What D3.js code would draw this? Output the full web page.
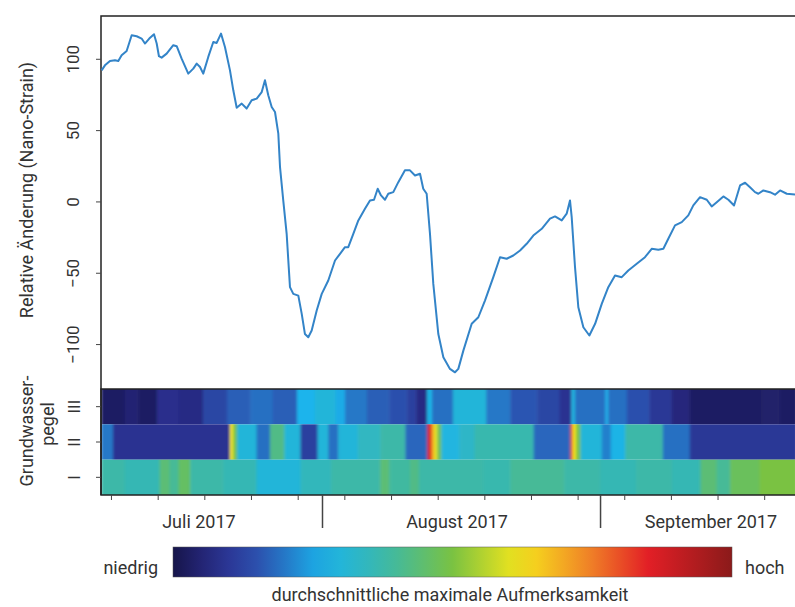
<!DOCTYPE html>
<html>
<head>
<meta charset="utf-8">
<script src="https://cdn.jsdelivr.net/npm/d3@7"></script>
<style>
  body { margin: 0; background: #fff; }
  svg { display: block; font-family: Roboto, "Noto Sans", sans-serif; }
</style>
</head>
<body>
<script>
// days counted from 1 July 2017
const strainDays = [6.43, 6.80, 7.36, 7.92, 8.29, 8.66, 9.22, 9.78, 10.34, 10.89, 11.26, 11.74, 12.27, 12.57,
  12.82, 13.12, 13.68, 14.42, 14.80, 15.35, 16.09, 16.65, 17.03, 17.40, 17.76, 18.32, 18.88, 19.26, 19.74,
  20.18, 20.74, 21.11, 21.49, 22.05, 22.60, 23.16, 23.72, 24.28, 24.64, 25.01, 25.39, 25.76, 26.13, 26.32,
  26.68, 27.06, 27.43, 27.80, 28.36, 28.74, 29.10, 29.47, 29.85, 30.41, 30.97, 31.70, 32.45, 33.01, 33.56,
  33.93, 34.49, 35.05, 35.79, 36.35, 36.80, 37.21, 37.58, 38.02, 38.39, 38.95, 39.51, 40.25, 40.81, 41.37,
  41.93, 42.29, 42.67, 43.04, 43.41, 43.97, 44.53, 45.27, 45.83, 46.20, 46.76, 47.69, 48.43, 49.17, 50.10,
  50.85, 51.59, 52.33, 53.08, 53.82, 54.56, 55.50, 56.42, 56.98, 57.73, 58.28, 58.65, 58.84, 59.21, 59.58,
  60.14, 60.81, 61.45, 62.19, 62.92, 63.67, 64.42, 65.15, 66.09, 67.01, 67.76, 68.50, 69.06, 69.61, 70.36,
  71.11, 71.84, 72.40, 73.15, 73.90, 74.45, 75.01, 75.75, 76.31, 76.94, 77.61, 78.17, 78.72, 79.28, 79.65,
  80.21, 80.95, 81.51, 82.07, 82.82, 83.74];
const strainValues = [91.9, 95.4, 98.5, 99, 98.5, 102.5, 105.5, 116.5, 115.8, 114.2, 110.7, 114.2, 117.2, 110.7,
  101.8, 100.8, 103.6, 109.5, 108.8, 100.1, 89.6, 93.1, 96.6, 94.2, 89.6, 101.3, 111.8, 111.1, 117.7,
  108.3, 91.9, 77.9, 65.7, 68.6, 65.1, 70.9, 72.1, 76.7, 84.9, 74.4, 66.2, 62.7, 47.5, 24,
  0.7, -22.7, -60.1, -64.8, -66, -78.8, -93, -95.2, -90.5, -76.5, -64.8, -55.4, -41.4, -36.7, -32.1,
  -32.1, -22.7, -13.3, -5.1, 0.7, 1.2, 8.9, 4.2, 1.2, 5.4, 6.5, 13.5, 21.8, 21.8, 18.2,
  19.4, 8.9, 5.4, -22.7, -57.8, -93, -109.3, -117.4, -119.8, -117.4, -104.6, -85.8, -81.2, -69.5, -53.1,
  -39.1, -40.2, -37.9, -34.4, -29.7, -23.9, -19.2, -12.1, -10.5, -13.3, -8.6, 0.7, -11, -46.1, -74.2,
  -88.2, -94, -85.8, -71.8, -60.1, -51.9, -53.1, -48.4, -43.7, -39.1, -33.2, -33.9, -33.2, -26.2, -16.8,
  -14.5, -9.8, -2.8, 3, 1.2, -3.5, -0.5, 3.5, 1.2, -2.8, 11.2, 13.1, 10, 6.5, 5.4,
  7.7, 6.5, 4.7, 7.7, 5.4, 4.9];

// heatmap rows: [start day, attention 0..1], each cell runs to the next start
const rowIII = [[6.36, 0.03], [9.0, 0.05], [10.5, 0.03], [12.6, 0.08], [15.0, 0.07], [17.73, 0.13], [20.4, 0.17],
  [23.0, 0.19], [25.5, 0.17], [28.21, 0.27], [30.2, 0.3], [32.5, 0.26], [33.56, 0.2], [36.0, 0.17],
  [38.5, 0.15], [40.5, 0.12], [41.5, 0.07], [42.71, 0.28], [43.26, 0.19], [45.6, 0.3], [49.3, 0.2],
  [52.0, 0.16], [55.0, 0.13], [57.5, 0.09], [58.8, 0.29], [59.2, 0.19], [62.6, 0.27], [62.9, 0.19],
  [65.0, 0.15], [67.5, 0.1], [70.0, 0.06], [72.0, 0.03], [80.0, 0.04], [82.0, 0.03]];
const rowII = [[6.36, 0.2], [7.69, 0.09], [20.74, 0.62], [21.07, 0.5], [21.5, 0.3], [23.7, 0.19], [25.2, 0.42],
  [26.8, 0.3], [28.6, 0.12], [30.5, 0.3], [31.7, 0.19], [32.8, 0.3], [35.0, 0.34], [37.5, 0.38],
  [40.3, 0.18], [42.75, 0.86], [43.2, 0.7], [43.5, 0.6], [43.85, 0.48], [44.3, 0.29], [46.3, 0.33],
  [48.0, 0.37], [54.6, 0.18], [58.7, 0.8], [58.95, 0.62], [59.3, 0.5], [59.8, 0.3], [62.2, 0.21],
  [63.2, 0.28], [64.8, 0.38], [69.0, 0.19], [72.0, 0.1]];
const rowI = [[6.36, 0.38], [9.0, 0.36], [12.9, 0.44], [14.0, 0.4], [15.0, 0.46], [16.3, 0.38], [20.0, 0.36],
  [23.7, 0.3], [28.6, 0.35], [32.0, 0.38], [37.5, 0.44], [38.5, 0.39], [40.8, 0.42], [41.8, 0.38],
  [49.0, 0.37], [52.0, 0.4], [58.0, 0.38], [62.0, 0.36], [66.0, 0.38], [70.0, 0.36], [73.2, 0.44],
  [75.0, 0.4], [76.5, 0.47], [79.8, 0.5]];
const rowNames = ["III", "II", "I"];

const minorTicks = [7.47, 12.68, 17.88, 23.08, 28.29, 33.49, 38.7, 43.9, 49.1, 54.3, 59.5, 64.7, 69.9, 75.1, 80.3];
const monthBreaks = [31, 62];
const monthLabels = ["Juli 2017", "August 2017", "September 2017"];
const monthLabelDays = [17.28, 46.06, 74.37];
const yTicks = [-100, -50, 0, 50, 100];

const colorStops = [0, 0.08, 0.16, 0.27, 0.38, 0.5, 0.62, 0.73, 0.85, 1];
const colorRange = ["#16154a", "#2b2d8c", "#2c55b2", "#1ab4ec", "#3cb8a8", "#7ac242", "#f6e61a", "#f29027", "#e21f26", "#8b1a1a"];

const width = 795;
const height = 607;
const plotLeft = 101, plotRight = 797, plotTop = 16, plotMid = 389, plotBottom = 495;
const textColor = "#333";

const svg = d3.select("body").append("svg")
  .attr("width", width)
  .attr("height", height);

const defs = svg.append("defs");
// soft horizontal smear, like the resampled image in the source figure
defs.append("filter")
  .attr("id", "smear")
  .attr("x", 0).attr("y", 0).attr("width", 1).attr("height", 1)
  .append("feGaussianBlur")
  .attr("stdDeviation", "1.6 0")
  .attr("edgeMode", "duplicate");

const x = d3.scaleLinear().domain([6.36, 83.96]).range([plotLeft, plotRight]);
const y = d3.scaleLinear().domain([-131.5, 130]).range([plotMid, plotTop]);
const rowY = d3.scaleBand().domain(rowNames).range([plotMid, plotBottom]);
const color = d3.scaleLinear().domain(colorStops).range(colorRange).interpolate(d3.interpolateRgb);

// heatmap
const rows = [rowIII, rowII, rowI];
rows.forEach((cells, i) => {
  svg.append("g")
    .attr("filter", "url(#smear)")
    .selectAll("rect")
    .data(cells)
    .enter()
    .append("rect")
    .attr("x", (d) => x(d[0]))
    .attr("width", (d, j) => {
      const end = j < cells.length - 1 ? cells[j + 1][0] : x.domain()[1];
      return x(end) - x(d[0]) + 0.5;
    })
    .attr("y", rowY(rowNames[i]))
    .attr("height", rowY.bandwidth())
    .attr("fill", (d) => color(d[1]));
});

svg.append("rect")
  .attr("x", plotLeft).attr("y", plotMid)
  .attr("width", plotRight - plotLeft).attr("height", plotBottom - plotMid)
  .attr("fill", "none").attr("stroke", "#222").attr("stroke-width", 1.5);

// frame of the strain panel
svg.append("path")
  .attr("d", `M${plotRight},${plotTop}H${plotLeft}V${plotBottom}`)
  .attr("fill", "none").attr("stroke", "#222").attr("stroke-width", 1.5);

// strain line
const line = d3.line()
  .x((d, i) => x(strainDays[i]))
  .y((d) => y(d));

svg.append("path")
  .datum(strainValues)
  .attr("d", line)
  .attr("fill", "none")
  .attr("stroke", "#3384c8")
  .attr("stroke-width", 2)
  .attr("stroke-linejoin", "round");

// y axis with rotated labels
const yAxis = svg.append("g")
  .attr("transform", `translate(${plotLeft},0)`)
  .call(d3.axisLeft(y).tickValues(yTicks).tickSize(5).tickFormat(d3.format("d")));
yAxis.select(".domain").remove();
yAxis.selectAll("line").attr("stroke", "#444");
yAxis.selectAll("text")
  .attr("transform", "rotate(-90)")
  .attr("x", 0).attr("y", -22).attr("dy", 0)
  .attr("text-anchor", "middle")
  .attr("fill", textColor)
  .style("font-size", "17px")
  .style("font-family", "Roboto");

const rowAxis = svg.append("g")
  .attr("transform", `translate(${plotLeft},0)`)
  .call(d3.axisLeft(rowY).tickSize(5));
rowAxis.select(".domain").remove();
rowAxis.selectAll("line").attr("stroke", "#444");
rowAxis.selectAll("text")
  .attr("transform", "rotate(-90)")
  .attr("x", 0).attr("y", -21).attr("dy", 0)
  .attr("text-anchor", "middle")
  .attr("fill", textColor)
  .style("font-size", "17px")
  .style("font-family", "Roboto");

// x axis
const xMinor = svg.append("g")
  .attr("transform", `translate(0,${plotBottom})`)
  .call(d3.axisBottom(x).tickValues(minorTicks).tickSize(5).tickFormat(""));
xMinor.select(".domain").remove();
xMinor.selectAll("line").attr("stroke", "#444");

const xMajor = svg.append("g")
  .attr("transform", `translate(0,${plotBottom})`)
  .call(d3.axisBottom(x).tickValues(monthBreaks).tickSize(33).tickFormat(""));
xMajor.select(".domain").remove();
xMajor.selectAll("line").attr("stroke", "#444").attr("stroke-width", 1.5);

svg.append("g")
  .selectAll("text")
  .data(monthLabels)
  .enter()
  .append("text")
  .attr("x", (d, i) => x(monthLabelDays[i]))
  .attr("y", 528)
  .attr("text-anchor", "middle")
  .attr("fill", textColor)
  .style("font-size", "18px")
  .text((d) => d);

// axis titles
svg.append("text")
  .attr("transform", "translate(33,190) rotate(-90)")
  .attr("text-anchor", "middle")
  .attr("fill", textColor)
  .style("font-size", "18px")
  .text("Relative Änderung (Nano-Strain)");

svg.append("text")
  .attr("transform", "translate(33,431) rotate(-90)")
  .attr("text-anchor", "middle")
  .attr("fill", textColor)
  .style("font-size", "18px")
  .text("Grundwasser-");

svg.append("text")
  .attr("transform", "translate(54,424) rotate(-90)")
  .attr("text-anchor", "middle")
  .attr("fill", textColor)
  .style("font-size", "18px")
  .text("pegel");

// colour bar
const gradient = defs.append("linearGradient")
  .attr("id", "attention");
d3.range(0, 1.001, 0.05).forEach((t) => {
  gradient.append("stop")
    .attr("offset", t)
    .attr("stop-color", color(t));
});

const barX = d3.scaleLinear().domain([0, 1]).range([173, 732]);
svg.append("rect")
  .attr("x", barX(0)).attr("y", 547)
  .attr("width", barX(1) - barX(0)).attr("height", 30)
  .attr("fill", "url(#attention)")
  .attr("stroke", "#555").attr("stroke-width", 0.5);

svg.append("text")
  .attr("x", barX(0) - 15).attr("y", 574)
  .attr("text-anchor", "end")
  .attr("fill", textColor)
  .style("font-size", "18px")
  .text("niedrig");

svg.append("text")
  .attr("x", barX(1) + 13).attr("y", 574)
  .attr("fill", textColor)
  .style("font-size", "18px")
  .text("hoch");

svg.append("text")
  .attr("x", 450).attr("y", 601)
  .attr("text-anchor", "middle")
  .attr("fill", textColor)
  .style("font-size", "18px")
  .text("durchschnittliche maximale Aufmerksamkeit");
</script>
</body>
</html>
